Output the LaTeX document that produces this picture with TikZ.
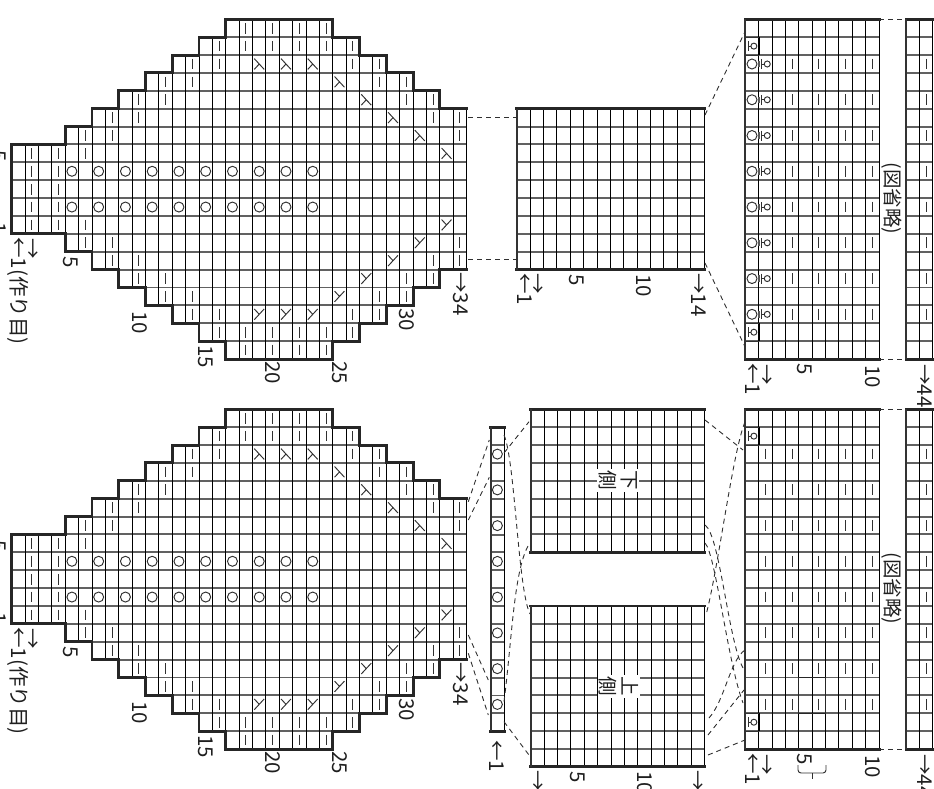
\documentclass[tikz,border=0pt]{standalone}
\usepackage{fontspec}
\setmainfont{Noto Sans CJK JP}
\definecolor{ink}{HTML}{1F1F1F}
\definecolor{rule}{HTML}{303030}
\tikzset{
  cells/.style 2 args={shift={(#1,#2)},x=13.38pt,y=-17.88pt},
  gridcol/.style={black,line width=0.95pt},
  gridrow/.style={black!62,line width=1.95pt},
  outline/.style={black!85,line width=2.95pt,line cap=rect},
  stitch/.style={rule,line width=0.95pt},
  link/.style={rule,line width=0.9pt,dash pattern=on 5pt off 4pt},
  lbl/.style={rotate=-90,anchor=west,inner sep=0pt,text=ink,text height=15pt,text depth=0pt,
    font=\fontsize{20.5}{22}\selectfont},
  tag/.style={rotate=-90,inner sep=1.5pt,fill=white,text=ink,align=center,
    font=\fontsize{19.5}{22}\selectfont},
}
% rectangular block: x, y, rows, columns
\newcommand{\stitchgrid}[4]{
  \begin{scope}[cells={#1}{#2}]
    \foreach \cl in {0,...,#4} \draw[gridrow] (0,\cl) -- (#3,\cl);
    \foreach \rw in {0,...,#3} \draw[gridcol] (\rw,0) -- (\rw,#4);
    \draw[outline] (0,0) -- (#3,0) (0,#4) -- (#3,#4);
    \draw[black!80,line width=1.95pt] (0,0) -- (0,#4);
  \end{scope}
}
\newcommand{\twistmark}[2]{
  \draw[stitch] (#1+.2,#2+.22) -- (#1+.2,#2+.78) (#1+.2,#2+.5) -- (#1+.42,#2+.5);
  \draw[stitch] (#1+.64,#2+.5) circle[radius=3pt];
}
% the big rounded chart, second argument is the offset of the whole thing
\newcommand{\knitchart}[1]{
  \begin{scope}[cells={11.7}{19.3+#1}]
    \foreach \ra/\rb/\ca/\cb in {0/4/7/12,4/6/6/13,6/8/5/14,8/10/4/15,10/12/3/16,12/14/2/17,
        14/16/1/18,16/24/0/19,24/26/1/18,26/28/2/17,28/30/3/16,30/32/4/15,32/34/5/14}{
      \foreach \cl in {\ca,...,\cb} \draw[gridrow] (\ra,\cl) -- (\rb,\cl);
      \foreach \rw in {\ra,...,\rb} \draw[gridcol] (\rw,\ca) -- (\rw,\cb);
    }
    \draw[outline] (34,5) -- (32,5) |- (30,4) |- (28,3) |- (26,2) |- (24,1) |- (24,0) -- (16,0)
      |- (14,1) |- (12,2) |- (10,3) |- (8,4) |- (6,5) |- (4,6) |- (0,7) |- (4,12) |- (6,13)
      |- (8,14) |- (10,15) |- (12,16) |- (14,17) |- (16,18) |- (24,19) |- (26,18) |- (28,17)
      |- (30,16) |- (32,15) |- (34,14);
    % purl marks
    \foreach \rw in {1,3} \foreach \cl in {7,...,11}
      \draw[stitch] (\rw+.5,\cl+.2) -- (\rw+.5,\cl+.8);
    \foreach \rw/\cl in {5/6,7/5,9/4,11/3,13/2,15/1,17/0,19/0,21/0,23/0,25/1,27/2,29/3,31/4,33/5}
      \foreach \k in {\cl,\cl+1,18-\cl,17-\cl}
        \draw[stitch] (\rw+.5,{\k+.2}) -- (\rw+.5,{\k+.8});
    % yarn overs
    \foreach \rw in {4,6,...,22} \foreach \cl in {8,10}
      \draw[stitch] (\rw+.5,\cl+.5) circle[radius=5pt];
    % decreases
    \foreach \rw/\cl in {18/2,20/2,22/2,24/3,26/4,28/5,30/6,32/7}{
      \draw[stitch] (\rw+.13,\cl+.2) -- (\rw+.87,\cl+.8) (\rw+.5,\cl+.5) -- (\rw+.13,\cl+.8);
      \draw[stitch] (\rw+.13,{18-\cl+.8}) -- (\rw+.87,{18-\cl+.2}) (\rw+.5,{18-\cl+.5}) -- (\rw+.13,{18-\cl+.2});
    }
  \end{scope}
  \begin{scope}[shift={(0,#1)}]
    \node[lbl] (chstart#1) at (18.5,237) {←1(作り目)};
    \node[lbl] (charrow#1) at (33,238) {→};
    \node[lbl] (chend#1) at (460.5,272) {→34};
    \foreach \n/\px/\py in {1/-1/222,5/-1/150}
      \node[lbl] (chtop\n#1) at (\px,\py) {\n};
    \foreach \n/\px/\py in {5/71/256,10/139.5/311,15/206/345,20/273/361,25/340/361,30/407/308}
      \node[lbl] (chnum\n#1) at (\px,\py) {\n};
  \end{scope}
}
% ribbed block on the right, offset as above
\newcommand{\ribblock}[1]{
  \stitchgrid{745.3}{19.3+#1}{10}{19}
  \stitchgrid{906}{19.3+#1}{2}{19}
  \begin{scope}[cells={745.3}{19.3+#1}]
    \foreach \cl in {1,17}{
      \draw[black,line width=1.95pt] (1,\cl) -- (1,\cl+1);
      \draw[black!80,line width=0.95pt] (0,\cl) -- (1,\cl) (0,\cl+1) -- (1,\cl+1);
      \twistmark{0}{\cl}
    }
    \draw[link] (10,0) -- (12,0) (10,19) -- (12,19);
  \end{scope}
  \begin{scope}[shift={(0,#1)}]
    \node[tag,fill=none] (omit#1) at (892,198.7) {(図省略)};
    \node[lbl] (ribstart#1) at (752.5,363) {←1};
    \node[lbl] (ribarrow#1) at (767,364) {→};
    \node[lbl] (ribfive#1) at (805,363.5) {5};
    \node[lbl] (ribten#1) at (873,365) {10};
    \node[lbl] (ribend#1) at (925,364) {→44};
  \end{scope}
}

\begin{document}
\begin{tikzpicture}[x=1pt,y=-1pt]
  \useasboundingbox (0,0) rectangle (934,788);
  \clip (0,0) rectangle (934,788);

  % upper half
  \knitchart{0}
  \stitchgrid{516.7}{108.7}{14}{9}
  \ribblock{0}
  \node[lbl] (midstart) at (525,273) {←1};
  \node[lbl] (midarrow) at (538,273) {→};
  \node[lbl] (midfive) at (577,274) {5};
  \node[lbl] (midten) at (644,274) {10};
  \node[lbl] (midend) at (699,273) {→14};
  \begin{scope}[cells={745.3}{19.3}]
    \foreach \cl in {2,4,...,16}{
      \draw[stitch] (.5,\cl+.5) circle[radius=5pt];
      \twistmark{1}{\cl}
      \draw[black!65,line width=1.95pt] (1.02,\cl+.32) -- (1.02,\cl+.68);
      \foreach \rw in {3,5,7,9}
        \draw[stitch] (\rw+.5,\cl+.2) -- (\rw+.5,\cl+.8);
    }
  \end{scope}
  \begin{scope}[cells={906}{19.3}]
    \foreach \cl in {2,4,...,16} \draw[stitch] (1.5,\cl+.2) -- (1.5,\cl+.8);
  \end{scope}
  \foreach \n/\px/\py in {ua/468/117.7,ub/516.7/117.7,uc/468/259.3,ud/516.7/259.3,
      ue/705/115,uf/745/31.7,ug/705/263,uh/745/346.7}
    \coordinate (\n) at (\px,\py);
  \foreach \a/\b in {ua/ub,uc/ud,ue/uf,ug/uh} \draw[link] (\a) -- (\b);

  % lower half
  \knitchart{390}
  \stitchgrid{530.7}{409.3}{13}{8}
  \stitchgrid{530.7}{606}{13}{9}
  \stitchgrid{490.7}{427.3}{1}{17}
  \node[tag] (lowtag) at (618,480.5) {下\\側};
  \node[tag] (hightag) at (619,686.5) {上\\側};
  \begin{scope}[cells={490.7}{409.4}]
    \foreach \cl in {2,4,...,16} \draw[stitch] (.5,\cl+.5) circle[radius=5pt];
  \end{scope}
  \ribblock{390}
  \begin{scope}[cells={745.3}{409.3}]
    \foreach \cl in {2,4,...,16} \foreach \rw in {1,3,5,7,9}
      \draw[stitch] (\rw+.5,\cl+.2) -- (\rw+.5,\cl+.8);
    \draw[black!85,line width=0.95pt] (4,15) rectangle (6,17);
  \end{scope}
  \begin{scope}[cells={906}{409.3}]
    \foreach \cl in {2,4,...,16} \draw[stitch] (1.5,\cl+.2) -- (1.5,\cl+.8);
  \end{scope}
  \node[lbl] (stripstart) at (496.7,740) {←1};
  \node[lbl] (topleft) at (538,770) {→};
  \node[lbl] (topfive) at (578,771) {5};
  \node[lbl] (topten) at (645,771) {10};
  \node[lbl] (topright) at (698,770) {→};
  \coordinate (bracea) at (798,765);
  \coordinate (braceb) at (826,765);
  \coordinate (bracec) at (812,773);
  \coordinate (braced) at (812,779);
  \draw[stitch,rounded corners=3pt] (bracea) |- (bracec) -| (braceb);
  \draw[stitch] (bracec) -- (braced);

  \foreach \n/\px/\py in {la/468.3/501.7,lb/489.3/440,lc/468.3/520,ld/489.3/477.3,
      le/468.3/635,lf/488.3/680,lg/468.3/653.3,lh/488.3/715,
      sa/504/453,sb/529/421.7,sc/504/721.7,sd/529/755,
      se/504/435,sf/530/614,sg/504/701.7,sh/530/543,
      ta/705/420,tb/743/450,tc/745/422,td/706/615,te/705/525,tf/743/668,
      tg/705/543,th/743/703,ti/709/718,tj/745/650,tk/708/735,tl/744/690,
      tm/708/755,tn/745/740}
    \coordinate (\n) at (\px,\py);
  \foreach \a/\b in {la/lb,lc/ld,le/lf,lg/lh,sa/sb,sc/sd,ta/tb,tk/tl,tm/tn}
    \draw[link] (\a) -- (\b);
  \draw[link] (se) .. controls (515,460) and (518,590) .. (sf);
  \draw[link] (sg) .. controls (512,640) and (514,565) .. (sh);
  \draw[link] (tc) .. controls (733,450) and (718,570) .. (td);
  \draw[link] (te) .. controls (720,535) and (728,640) .. (tf);
  \draw[link] (tg) .. controls (716,555) and (727,660) .. (th);
  \draw[link] (ti) .. controls (725,700) and (730,660) .. (tj);
\end{tikzpicture}
\end{document}
